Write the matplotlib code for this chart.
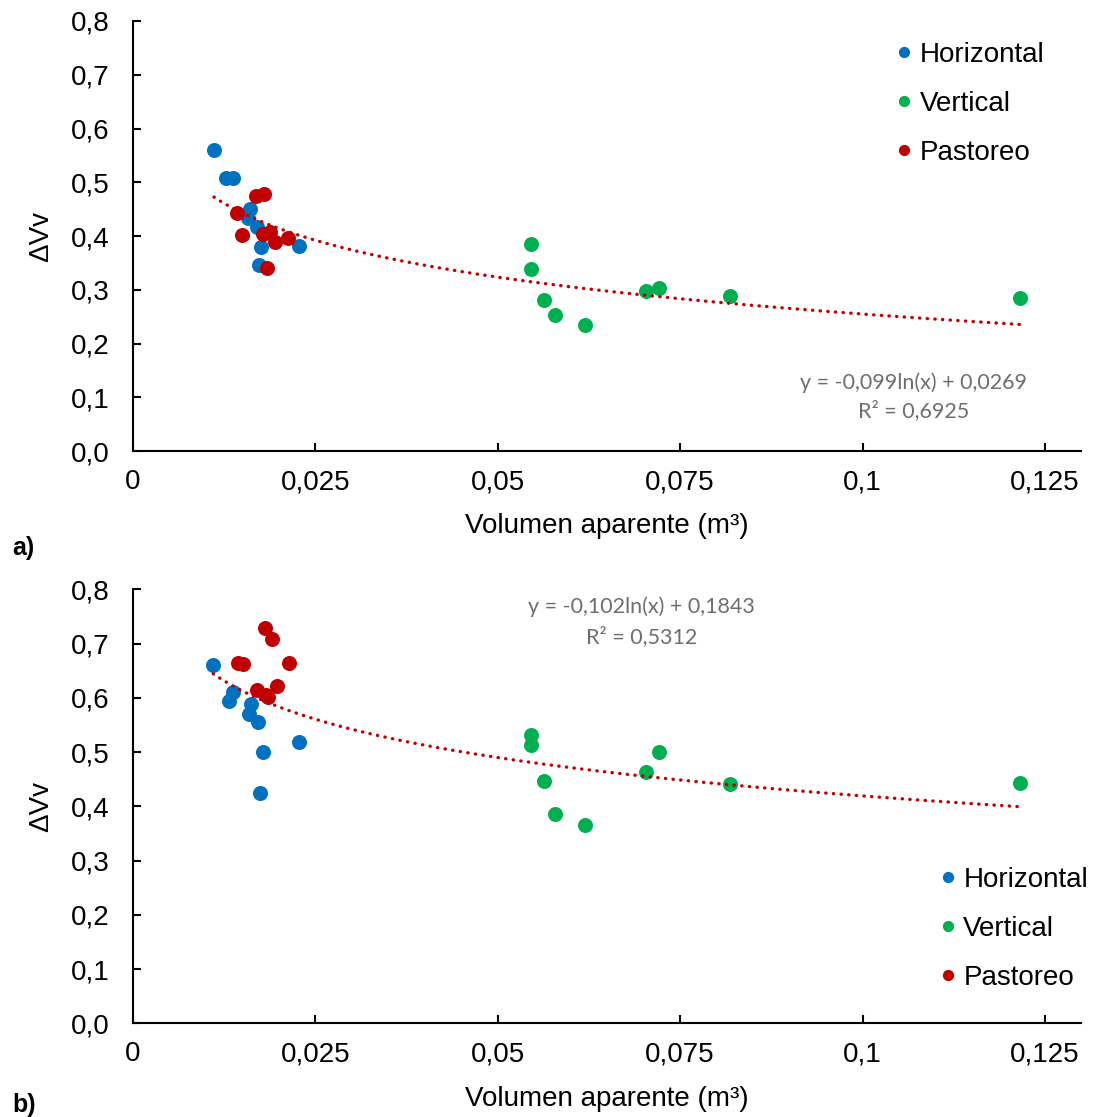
import matplotlib
matplotlib.use("Agg")
import matplotlib.pyplot as plt
import numpy as np

plt.rcParams['font.family'] = ['Liberation Sans', 'DejaVu Sans']

# volumen aparente (m3) y delta Vv por tratamiento
horiz_x_a = [0.0111, 0.0128, 0.0137, 0.0160, 0.0158, 0.0170, 0.0176, 0.0173, 0.0228]
horiz_y_a = [0.560, 0.508, 0.508, 0.451, 0.433, 0.417, 0.380, 0.347, 0.381]
vert_x = [0.0546, 0.0546, 0.0563, 0.0578, 0.0619, 0.0703, 0.0721, 0.0819, 0.1216]
vert_y_a = [0.386, 0.338, 0.281, 0.253, 0.234, 0.298, 0.303, 0.288, 0.285]
past_x_a = [0.0169, 0.0179, 0.0142, 0.0150, 0.0178, 0.0188, 0.0194, 0.0213, 0.0184]
past_y_a = [0.474, 0.478, 0.443, 0.401, 0.403, 0.408, 0.388, 0.397, 0.341]

horiz_x_b = [0.0110, 0.0137, 0.0131, 0.0162, 0.0159, 0.0172, 0.0228, 0.0178, 0.0174]
horiz_y_b = [0.661, 0.611, 0.594, 0.588, 0.571, 0.556, 0.518, 0.500, 0.424]
vert_y_b = [0.531, 0.513, 0.447, 0.386, 0.366, 0.463, 0.500, 0.442, 0.443]
past_x_b = [0.0181, 0.0190, 0.0144, 0.0151, 0.0214, 0.0197, 0.0170, 0.0183, 0.0185]
past_y_b = [0.729, 0.708, 0.665, 0.662, 0.665, 0.622, 0.614, 0.605, 0.601]

# ajuste logaritmico y = a ln(x) + b
fit_a = (-0.099, 0.0269, 0.6925)
fit_b = (-0.102, 0.1843, 0.5312)

x_ticks = [0, 0.025, 0.05, 0.075, 0.1, 0.125]
x_tick_labels = ['0', '0,025', '0,05', '0,075', '0,1', '0,125']
y_ticks = [0.0, 0.1, 0.2, 0.3, 0.4, 0.5, 0.6, 0.7, 0.8]
y_tick_labels = ['0,0', '0,1', '0,2', '0,3', '0,4', '0,5', '0,6', '0,7', '0,8']
series_names = ['Horizontal', 'Vertical', 'Pastoreo']
colors = ['#0070C0', '#00B050', '#C00000']

fig = plt.figure(figsize=(10.99, 11.17), dpi=100)
ax1 = fig.add_axes([0.121, 0.5962, 0.863, 0.385])
ax2 = fig.add_axes([0.121, 0.0839, 0.863, 0.3885])


def draw_panel(ax, hx, hy, vx, vy, px, py, fit, eq_pos, leg_pos):
    for xs, ys, c, name in zip([hx, vx, px], [hy, vy, py], colors, series_names):
        ax.plot(xs, ys, 'o', color=c, markersize=10.8, markeredgewidth=0,
                label=name, zorder=3)
    allx = np.array(hx + vx + px)
    xt = np.linspace(allx.min(), allx.max(), 200)
    ax.plot(xt, fit[0] * np.log(xt) + fit[1], color='#C00000', lw=2.4,
            linestyle=(0, (0.1, 2.2)), dash_capstyle='round', zorder=4)

    eq = 'y = {}ln(x) + {}'.format(str(fit[0]).replace('.', ','),
                                   str(fit[1]).replace('.', ','))
    r2 = 'R² = {}'.format(str(fit[2]).replace('.', ','))
    for txt, yy in [(eq, eq_pos[1]), (r2, eq_pos[2])]:
        ax.text(eq_pos[0], yy, txt, transform=ax.transAxes, ha='center',
                va='center', fontsize=15.5, color='#6E6E6E',
                family=['Lato', 'DejaVu Sans'])

    ax.set_xlim(0, 0.13)
    ax.set_ylim(0, 0.8)
    ax.set_xticks(x_ticks)
    ax.set_xticklabels(x_tick_labels)
    ax.set_yticks(y_ticks)
    ax.set_yticklabels(y_tick_labels)
    for s in ['top', 'right']:
        ax.spines[s].set_visible(False)
    for s in ['left', 'bottom']:
        ax.spines[s].set_linewidth(1.5)
    ax.tick_params(axis='both', direction='in', length=6, width=1.5,
                   labelsize=20, colors='black')
    ax.tick_params(axis='x', pad=13)
    ax.tick_params(axis='y', pad=17)
    ax.set_xlabel('Volumen aparente (m³)', fontsize=20)
    ax.xaxis.set_label_coords(0.5, -0.144)
    ax.set_ylabel('ΔVv', fontsize=20)
    ax.yaxis.set_label_coords(-0.083, 0.5)

    ax.legend(loc='upper left', bbox_to_anchor=leg_pos, frameon=False,
              fontsize=20, markerscale=0.75, handlelength=0.5,
              handletextpad=0.3, labelspacing=0.82, borderaxespad=0,
              borderpad=0)


draw_panel(ax1, horiz_x_a, horiz_y_a, vert_x, vert_y_a, past_x_a, past_y_a,
           fit_a, (0.823, 0.158, 0.093), (0.806, 0.951))
draw_panel(ax2, horiz_x_b, horiz_y_b, vert_x, vert_y_b, past_x_b, past_y_b,
           fit_b, (0.5365, 0.959, 0.892), (0.852, 0.360))

fig.text(12 / 1099, 1 - 548 / 1117, 'a)', fontsize=18, fontweight='bold', va='center')
fig.text(12 / 1099, 1 - 1105 / 1117, 'b)', fontsize=18, fontweight='bold', va='center')

fig.savefig('out.png', dpi=100)
